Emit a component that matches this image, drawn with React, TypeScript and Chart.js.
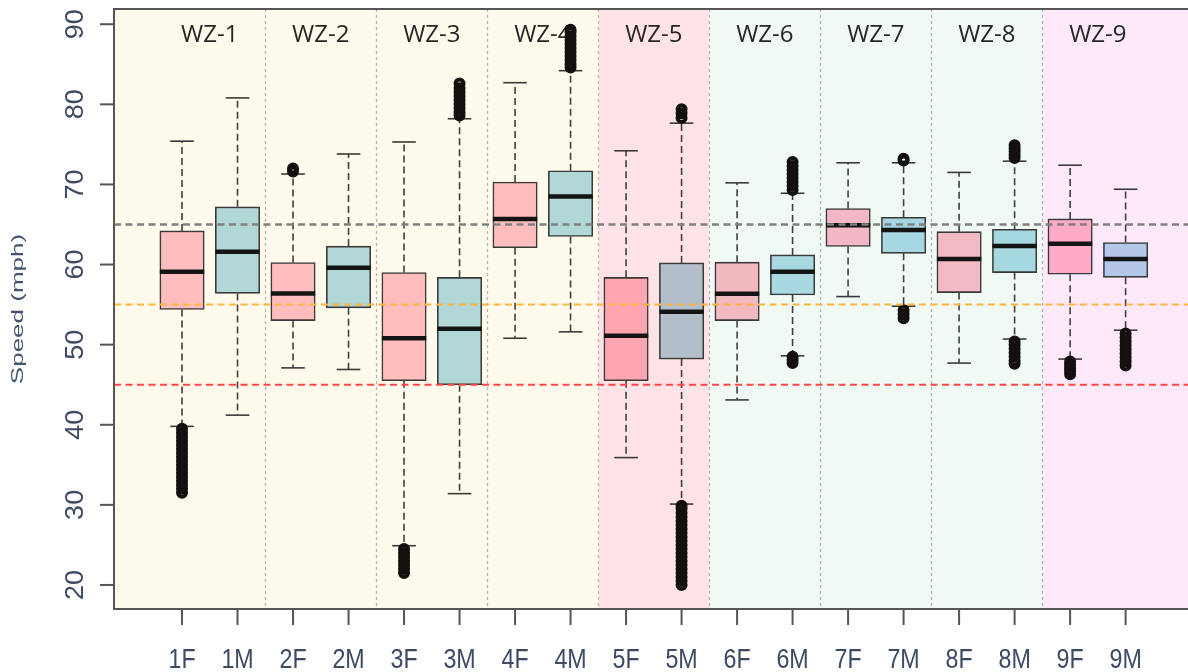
import { useEffect, useRef } from "react";
import { Chart, registerables } from "chart.js";

Chart.register(...registerables);

// ---------- data ----------
const categories = ["1F", "1M", "2F", "2M", "3F", "3M", "4F", "4M", "5F", "5M", "6F", "6M", "7F", "7M", "8F", "8M", "9F", "9M"];
const lowerWhisker = [39.8, 41.2, 47.1, 46.9, 24.9, 31.4, 50.8, 51.6, 35.9, 30.1, 43.1, 48.6, 56.0, 54.8, 47.7, 50.7, 48.2, 51.8];
const q1Values = [54.4, 56.4, 53.0, 54.6, 45.5, 45.0, 62.1, 63.5, 45.5, 48.2, 53.0, 56.2, 62.25, 61.4, 56.5, 59.0, 58.8, 58.4];
const medianValues = [59.1, 61.6, 56.4, 59.6, 50.8, 52.0, 65.7, 68.5, 51.1, 54.1, 56.35, 59.1, 64.9, 64.3, 60.7, 62.3, 62.6, 60.7];
const q3Values = [64.2, 67.2, 60.25, 62.3, 59.0, 58.4, 70.3, 71.7, 58.4, 60.2, 60.3, 61.2, 67.0, 65.9, 64.1, 64.4, 65.7, 62.75];
const upperWhisker = [75.4, 80.8, 71.3, 73.8, 75.3, 78.2, 82.7, 84.2, 74.2, 77.65, 70.2, 68.9, 72.7, 72.7, 71.5, 72.9, 72.4, 69.4];

const boxColors = [
  "#FFBDBD", "#B2D7D7", "#FFBDBD", "#B2D7D7", "#FFBDBD", "#B2D7D7", "#FFBDBD", "#B2D7D7",
  "#FFA6B1", "#B3BECB", "#F2B9C1", "#A9D9E0", "#F3B7C6", "#A5D8E2", "#F2BAC2", "#A5D8DF",
  "#FFAAC7", "#B3C8E8",
];

// outliers per category
const outliers1F = [31.5, 32, 32.5, 33, 33.5, 34, 34.5, 35, 35.5, 36, 36.5, 37, 37.5, 38, 38.5, 39, 39.5];
const outliers2F = [71.6, 72.0];
const outliers3F = [21.5, 22, 22.5, 23, 23.5, 24, 24.5];
const outliers3M = [78.6, 79, 79.5, 80, 80.5, 81, 81.5, 82, 82.6];
const outliers4M = [84.6, 85, 85.5, 86, 86.5, 87, 87.5, 88, 88.5, 89, 89.3];
const outliers5M = [20, 20.5, 21, 21.5, 22, 22.5, 23, 23.5, 24, 24.5, 25, 25.5, 26, 26.5, 27, 27.5, 28, 28.5, 29, 29.5, 29.9, 78.3, 78.9, 79.4];
const outliers6M = [47.7, 48.1, 48.5, 69.3, 69.8, 70.3, 70.8, 71.3, 71.8, 72.3, 72.8];
const outliers7M = [53.3, 53.8, 54.3, 73.0, 73.2];
const outliers8M = [47.6, 48, 48.5, 49, 49.5, 50, 50.4, 73.3, 73.7, 74.1, 74.5, 74.9];
const outliers9F = [46.3, 46.7, 47.1, 47.5, 47.9];
const outliers9M = [47.4, 47.9, 48.4, 48.9, 49.4, 49.9, 50.4, 50.9, 51.4];
const outlierGroups: [string, number[]][] = [
  ["1F", outliers1F], ["2F", outliers2F], ["3F", outliers3F], ["3M", outliers3M], ["4M", outliers4M],
  ["5M", outliers5M], ["6M", outliers6M], ["7M", outliers7M], ["8M", outliers8M], ["9F", outliers9F], ["9M", outliers9M],
];

const zoneLabels = ["WZ-1", "WZ-2", "WZ-3", "WZ-4", "WZ-5", "WZ-6", "WZ-7", "WZ-8", "WZ-9"];
const zoneColors = ["#FFFAEB", "#FFFAEB", "#FFFAEB", "#FFFAEB", "#FFE3E6", "#F1F9F4", "#F1F9F4", "#F1F9F4", "#FDE9FA"];

const referenceLines = [65, 55, 45];
const referenceColors = ["#808080", "#FFB43C", "#FF4646"];

const yTicks = [20, 30, 40, 50, 60, 70, 80, 90];
const yTitle = "Speed (mph)";

// ---------- plugin ----------
const LABEL_COLOR = "#3d4a63";
const decorPlugin = {
  id: "decor",
  beforeDatasetsDraw(chart: any) {
    const { ctx, chartArea: a, scales } = chart;
    const xs = scales.x;
    ctx.save();
    // zone backgrounds
    zoneLabels.forEach((_, z) => {
      const x0 = z === 0 ? a.left : xs.getPixelForValue(z * 2 + 0.5);
      const x1 = z === zoneLabels.length - 1 ? a.right : xs.getPixelForValue(z * 2 + 2.5);
      ctx.fillStyle = zoneColors[z];
      ctx.fillRect(x0, a.top, x1 - x0, a.bottom - a.top);
    });
    // separators
    ctx.strokeStyle = "#b3b3b3";
    ctx.lineWidth = 1.2;
    ctx.setLineDash([3, 3]);
    for (let z = 1; z < zoneLabels.length; z++) {
      const px = Math.round(xs.getPixelForValue(z * 2 + 0.5)) + 0.5;
      ctx.beginPath();
      ctx.moveTo(px, a.top);
      ctx.lineTo(px, a.bottom);
      ctx.stroke();
    }
    ctx.setLineDash([]);
    // zone labels
    ctx.fillStyle = "#262626";
    ctx.font = "24px 'Open Sans', sans-serif";
    ctx.textAlign = "center";
    ctx.textBaseline = "alphabetic";
    zoneLabels.forEach((lab, z) => {
      ctx.fillText(lab, xs.getPixelForValue(z * 2 + 1.5), 42);
    });
    ctx.restore();
  },
  afterDatasetsDraw(chart: any) {
    const { ctx, chartArea: a, scales } = chart;
    const xs = scales.x;
    const ys = scales.y;
    ctx.save();
    // reference lines
    referenceLines.forEach((v, i) => {
      const py = ys.getPixelForValue(v);
      ctx.strokeStyle = referenceColors[i];
      ctx.lineWidth = i === 0 ? 2.6 : 2;
      ctx.setLineDash([7, 4.5]);
      ctx.beginPath();
      ctx.moveTo(a.left, py);
      ctx.lineTo(a.right, py);
      ctx.stroke();
    });
    ctx.setLineDash([]);
    // frame
    ctx.strokeStyle = "#555";
    ctx.lineWidth = 2;
    ctx.beginPath();
    ctx.moveTo(a.right, a.top);
    ctx.lineTo(a.left, a.top);
    ctx.lineTo(a.left, a.bottom);
    ctx.lineTo(a.right, a.bottom);
    ctx.stroke();
    // y ticks
    ctx.fillStyle = LABEL_COLOR;
    yTicks.forEach((v) => {
      const py = ys.getPixelForValue(v);
      ctx.beginPath();
      ctx.moveTo(a.left - 14, py);
      ctx.lineTo(a.left, py);
      ctx.stroke();
      ctx.save();
      ctx.translate(83, py);
      ctx.scale(0.93, 1);
      ctx.rotate(-Math.PI / 2);
      ctx.font = "27px 'Liberation Sans', Arial, sans-serif";
      ctx.textAlign = "center";
      ctx.textBaseline = "alphabetic";
      ctx.fillText(String(v), 0, 0);
      ctx.restore();
    });
    // x ticks
    categories.forEach((c, i) => {
      const px = xs.getPixelForValue(i + 1);
      ctx.beginPath();
      ctx.moveTo(px, a.bottom);
      ctx.lineTo(px, a.bottom + 16);
      ctx.stroke();
      ctx.save();
      ctx.translate(px, 668);
      ctx.scale(0.83, 1);
      ctx.font = "28px 'Liberation Sans', Arial, sans-serif";
      ctx.textAlign = "center";
      ctx.textBaseline = "alphabetic";
      ctx.fillText(c, 0, 0);
      ctx.restore();
    });
    // y title
    ctx.save();
    ctx.fillStyle = "#465370";
    ctx.translate(23.3, (a.top + a.bottom) / 2);
    ctx.scale(0.62, 1);
    ctx.rotate(-Math.PI / 2);
    ctx.font = "26px 'Liberation Sans', Arial, sans-serif";
    ctx.textAlign = "center";
    ctx.textBaseline = "alphabetic";
    ctx.fillText(yTitle, 0, 0);
    ctx.restore();
    ctx.restore();
  },
};

export default function App() {
  const ref = useRef<HTMLCanvasElement | null>(null);

  useEffect(() => {
    if (!ref.current) return;
    const whiskerPoints: any[] = [];
    const staplePoints: any[] = [];
    categories.forEach((_, i) => {
      const x = i + 1;
      whiskerPoints.push({ x, y: q1Values[i] }, { x, y: lowerWhisker[i] }, { x, y: null });
      whiskerPoints.push({ x, y: q3Values[i] }, { x, y: upperWhisker[i] }, { x, y: null });
      staplePoints.push({ x, y: lowerWhisker[i] }, { x, y: upperWhisker[i] });
    });
    const outlierPoints: any[] = [];
    outlierGroups.forEach(([cat, vals]) => {
      const x = categories.indexOf(cat) + 1;
      vals.forEach((v) => outlierPoints.push({ x, y: v }));
    });

    const chart = new Chart(ref.current, {
      type: "bar",
      data: {
        datasets: [
          {
            type: "scatter",
            order: 0,
            data: categories.map((_, i) => ({ x: i + 1, y: medianValues[i] })),
            pointStyle: "line",
            pointRadius: 22.2,
            pointBorderWidth: 4.5,
            borderWidth: 4.5,
            borderColor: "#141414",
            pointBorderColor: "#141414",
          } as any,
          {
            type: "scatter",
            order: 1,
            data: outlierPoints,
            pointStyle: "circle",
            pointRadius: 4,
            pointBorderWidth: 4,
            borderWidth: 4,
            borderColor: "#141010",
            pointBorderColor: "#141010",
            backgroundColor: "rgba(0,0,0,0)",
            pointBackgroundColor: "rgba(0,0,0,0)",
          } as any,
          {
            type: "bar",
            order: 2,
            data: categories.map((_, i) => ({ x: i + 1, y: [q1Values[i], q3Values[i]] })),
            backgroundColor: boxColors,
            borderColor: "#3a3a3a",
            borderWidth: 1.6,
            borderSkipped: false,
            barThickness: 44.4,
            grouped: false,
          } as any,
          {
            type: "scatter",
            order: 3,
            data: staplePoints,
            pointStyle: "line",
            pointRadius: 11.8,
            pointBorderWidth: 1.6,
            borderWidth: 1.6,
            borderColor: "#3a3a3a",
            pointBorderColor: "#3a3a3a",
          } as any,
          {
            type: "line",
            order: 4,
            data: whiskerPoints,
            borderColor: "#3f3f3f",
            borderWidth: 1.6,
            borderDash: [7, 4],
            pointRadius: 0,
            spanGaps: false,
            fill: false,
          } as any,
        ],
      },
      options: {
        responsive: false,
        animation: false,
        events: [],
        layout: { autoPadding: false, padding: { left: 114, top: 9, right: 0, bottom: 63 } },
        plugins: { legend: { display: false }, tooltip: { enabled: false } },
        scales: {
          x: { type: "linear", min: -0.2255, max: 19.124, display: false, offset: false },
          y: { type: "linear", min: 17.0, max: 91.9, display: false },
        },
      } as any,
      plugins: [decorPlugin],
    });
    return () => chart.destroy();
  }, []);

  return (
    <div style={{ position: "absolute", left: 0, top: 0, width: 1188, height: 672, background: "#fff" }}>
      <canvas ref={ref} width={1188} height={672} style={{ display: "block" }} />
    </div>
  );
}
